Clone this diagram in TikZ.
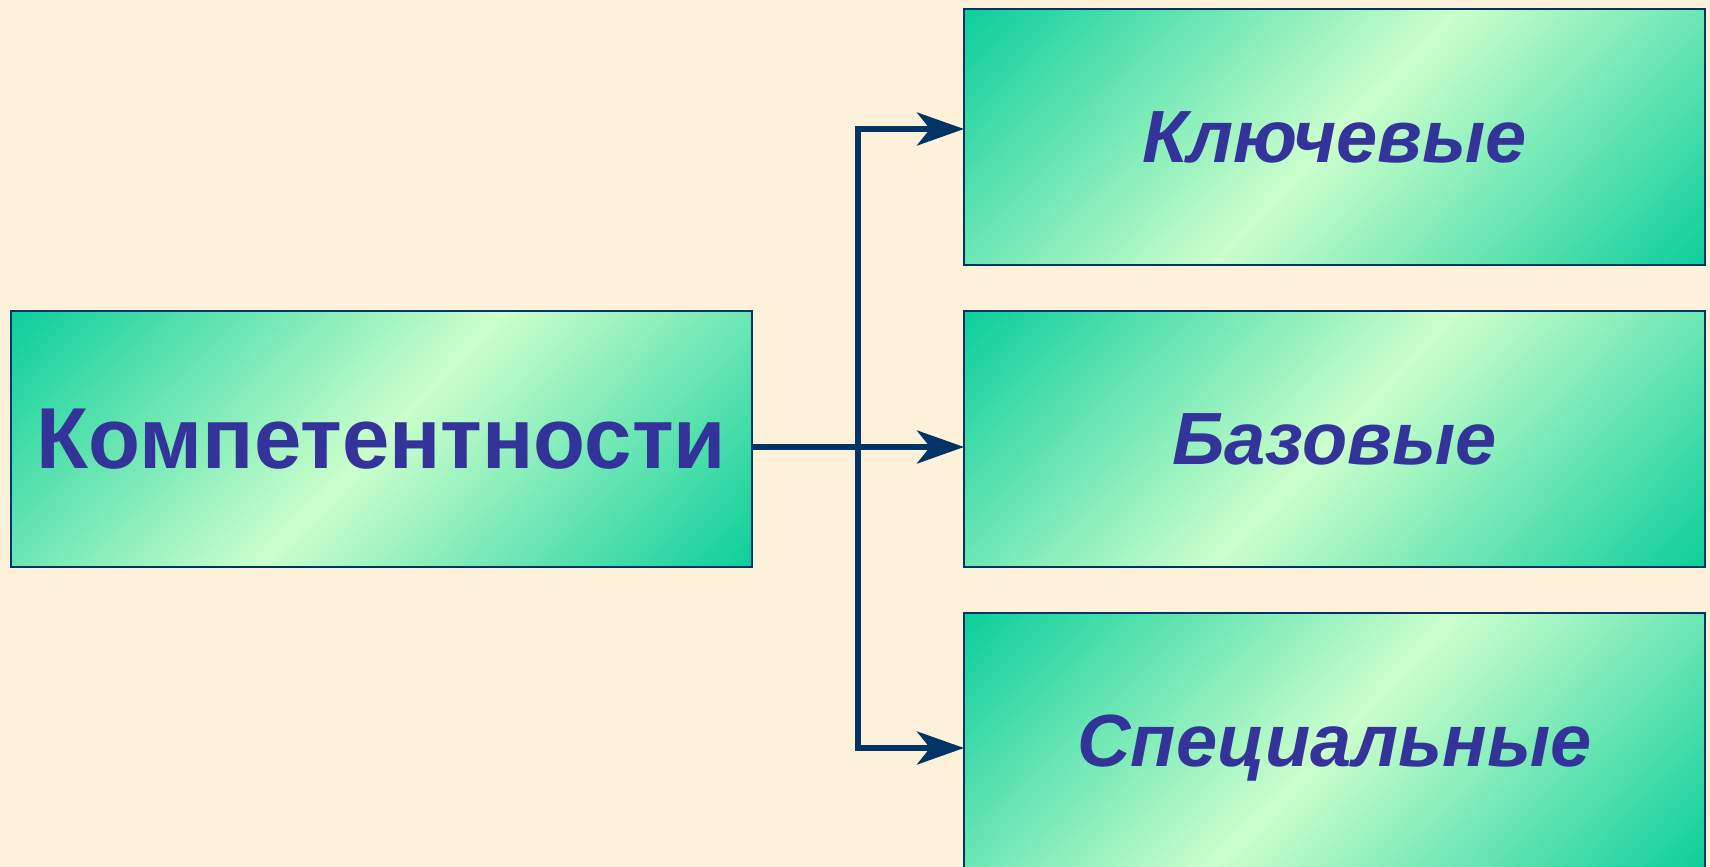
\documentclass[tikz,border=0pt]{standalone}
\usepackage{fontspec}
\setmainfont{Liberation Sans}
\usetikzlibrary{arrows.meta}
\definecolor{bgcream}{HTML}{FDF1D9}
\definecolor{gA}{HTML}{0ACE9B}
\definecolor{gL}{HTML}{CCFFCC}
\definecolor{navy}{HTML}{003366}
\definecolor{txt}{HTML}{333399}
\pgfdeclarehorizontalshading{gg}{100bp}{color(0bp)=(gA); color(30bp)=(gA); color(50bp)=(gL); color(70bp)=(gA); color(100bp)=(gA)}
\tikzset{
  gbox/.style={draw=navy, line width=1pt, inner sep=0pt, outer sep=0pt,
    minimum width=370.5pt, minimum height=128pt, text=txt, text depth=0pt,
    path picture={
      \shade[shading=gg, shading angle=-44]
        ([shift={(-450,-450)}]path picture bounding box.center) rectangle
        ([shift={(450,450)}]path picture bounding box.center);}},
  arr/.style={draw=navy, line width=2.6pt, line join=miter,
    -{Stealth[length=23.5pt, width=16.5pt, inset=6.5pt]}},
  bigtxt/.style={font=\fontsize{43.3}{50}\selectfont\bfseries},
  smtxt/.style={font=\fontsize{37}{44}\selectfont\bfseries\itshape},
}
\begin{document}
\begin{tikzpicture}[x=0.5pt, y=-0.5pt]
  \fill[bgcream] (0,0) rectangle (1710,867);
  \useasboundingbox (0,0) rectangle (1710,867);
  \node[gbox, bigtxt] (c) at (381.5,439) {\scalebox{0.983}[1]{Компетентности}};
  \node[gbox, smtxt] (k) at (1334.5,137) {Ключевые};
  \node[gbox, smtxt] (b) at (1334.5,439) {Базовые};
  \node[gbox, smtxt] (s) at (1334.5,741) {Специальные};
  \coordinate (j) at (858,447);
  \draw[arr] (c.east |- j) -- (b.west |- j);
  \draw[arr] (j) |- ([yshift=4pt]k.west);
  \draw[arr] (j) |- ([yshift=-3.5pt]s.west);
\end{tikzpicture}
\end{document}
